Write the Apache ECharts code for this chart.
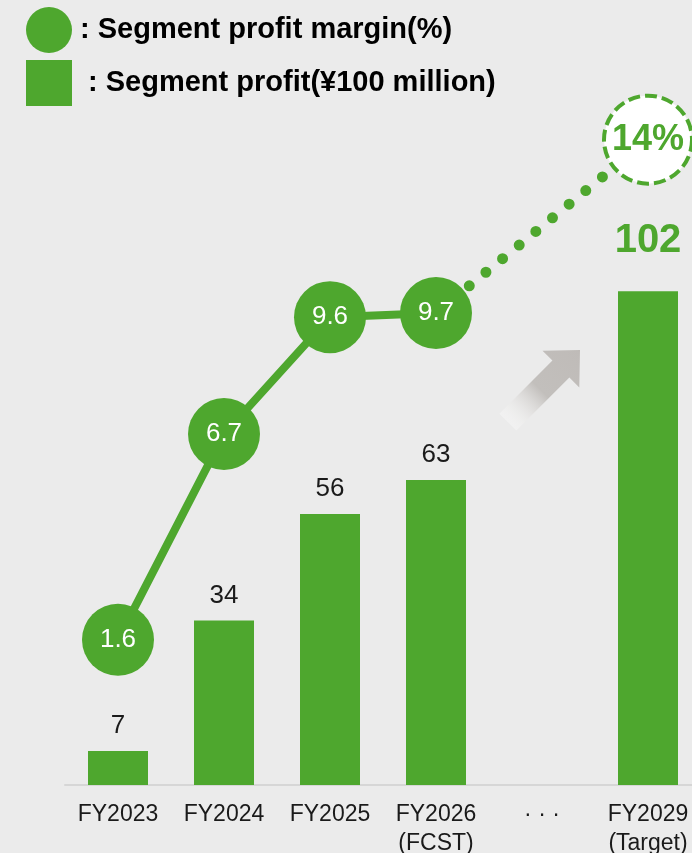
<!DOCTYPE html>
<html>
<head>
<meta charset="utf-8">
<script src="https://cdn.jsdelivr.net/npm/echarts@6/dist/echarts.min.js"></script>
<style>
  html, body { margin: 0; padding: 0; background: #ebebeb; }
  #main { width: 692px; height: 853px; }
</style>
</head>
<body>
<div id="main"></div>
<script>
const categories = ['FY2023', 'FY2024', 'FY2025', 'FY2026\n(FCST)', '· · ·', 'FY2029\n(Target)'];
const profit = [7, 34, 56, 63, '-', 102];
const margin = [1.6, 6.7, 9.6, 9.7, '-', '-'];
const marginTarget = ['-', '-', '-', 9.7, '-', 14];

const GREEN = '#4ea72e';
const FONT = '"Liberation Sans", Arial, sans-serif';

const chart = echarts.init(document.getElementById('main'));

// gray arrow pointing up-right (decoration only)
function arrowPoints() {
  const tip = [580, 350];
  const len = 102, headLen = 27, headHalf = 26, shaftHalf = 12;
  const u = [Math.SQRT1_2, -Math.SQRT1_2];
  const n = [Math.SQRT1_2, Math.SQRT1_2];
  const at = (s, t) => [tip[0] - (len - s) * u[0] + t * n[0], tip[1] - (len - s) * u[1] + t * n[1]];
  const b = len - headLen;
  return [at(0, -shaftHalf), at(b, -shaftHalf), at(b, -headHalf), at(len, 0),
          at(b, headHalf), at(b, shaftHalf), at(0, shaftHalf)];
}

const profitData = profit.map((v, i) => {
  if (i !== 5) return v;
  return {
    value: v,
    label: { fontSize: 40, fontWeight: 'bold', color: GREEN, distance: 30 }
  };
});

const targetData = marginTarget.map((v, i) => {
  if (i === 3) return { value: v, symbolSize: 0, label: { show: false } };
  if (i === 5) return {
    value: v,
    symbolSize: 88,
    itemStyle: { color: '#fff', borderColor: GREEN, borderWidth: 4, borderType: [12, 5] },
    label: { show: true, position: 'inside', formatter: '{c}%', fontSize: 36, fontWeight: 'bold', color: GREEN, fontFamily: FONT }
  };
  return v;
});

const option = {
  backgroundColor: '#ebebeb',
  animation: false,
  textStyle: { fontFamily: FONT },
  legend: {
    orient: 'vertical',
    left: 26,
    top: 7,
    padding: 0,
    itemWidth: 46,
    itemHeight: 46,
    itemGap: 7,
    selectedMode: false,
    data: [
      { name: 'margin', icon: 'circle' },
      { name: 'profit', icon: 'rect' }
    ],
    formatter: function (name) {
      return name === 'margin' ? ': Segment profit margin(%)' : ' : Segment profit(¥100 million)';
    },
    textStyle: { fontSize: 29, fontWeight: 'bold', color: '#000', fontFamily: FONT, padding: [0, 0, 0, 3] }
  },
  grid: { left: 65, top: 59, width: 636, height: 726, outerBoundsMode: 'none', containLabel: false },
  xAxis: {
    type: 'category',
    data: categories,
    axisTick: { show: false },
    axisLine: { lineStyle: { color: '#d6d6d6', width: 2 } },
    axisLabel: { interval: 0, fontSize: 23, lineHeight: 29, color: '#1a1a1a', margin: 15, fontFamily: FONT }
  },
  yAxis: [
    { type: 'value', min: 0, max: 150, show: false },
    { type: 'value', min: -2, max: 16, show: false }
  ],
  graphic: [
    {
      type: 'polygon',
      z: 0,
      shape: { points: arrowPoints() },
      style: {
        fill: {
          type: 'linear', global: true,
          x: 508, y: 422, x2: 580, y2: 350,
          colorStops: [
            { offset: 0, color: 'rgba(255,255,255,0.3)' },
            { offset: 0.45, color: '#c2bfbc' },
            { offset: 1, color: '#bfbbb8' }
          ]
        }
      }
    }
  ],
  series: [
    {
      name: 'profit',
      type: 'bar',
      yAxisIndex: 0,
      barWidth: 60,
      itemStyle: { color: GREEN },
      label: { show: true, position: 'top', distance: 12, fontSize: 26, color: '#1a1a1a', fontFamily: FONT },
      data: profitData,
      z: 2
    },
    {
      name: 'margin-target',
      type: 'line',
      yAxisIndex: 1,
      connectNulls: true,
      symbol: 'circle',
      lineStyle: { color: GREEN, width: 11, type: [0, 21.5], cap: 'round' },
      itemStyle: { color: GREEN },
      data: targetData,
      z: 3
    },
    {
      name: 'margin',
      type: 'line',
      yAxisIndex: 1,
      symbol: 'circle',
      symbolSize: 72,
      lineStyle: { color: GREEN, width: 8 },
      itemStyle: { color: GREEN },
      label: { show: true, position: 'inside', fontSize: 26, color: '#fff', fontFamily: FONT },
      data: margin,
      z: 4
    }
  ]
};

chart.setOption(option);
</script>
</body>
</html>
